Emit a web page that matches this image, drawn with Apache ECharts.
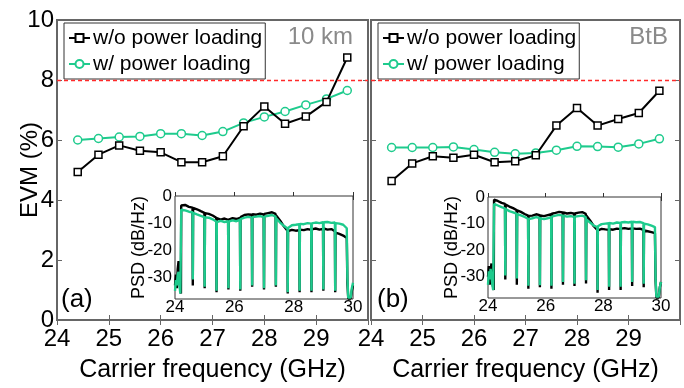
<!DOCTYPE html>
<html>
<head>
<meta charset="utf-8">
<script src="https://cdn.jsdelivr.net/npm/echarts@6/dist/echarts.min.js"></script>
<style>
  html, body { margin: 0; padding: 0; background: #fff; }
  #chart { width: 684px; height: 388px; }
</style>
</head>
<body>
<div id="chart"></div>
<script>
// Carrier frequencies of the 14 sub-bands (GHz)
const carrierGHz = [24.4, 24.8, 25.2, 25.6, 26.0, 26.4, 26.8, 27.2, 27.6, 28.0, 28.4, 28.8, 29.2, 29.6];

// EVM (%) after 10 km of fibre
const evm10kmWithout = [4.93, 5.51, 5.82, 5.64, 5.59, 5.26, 5.26, 5.46, 6.46, 7.12, 6.54, 6.78, 7.27, 8.75];
const evm10kmWith    = [6.00, 6.05, 6.10, 6.12, 6.21, 6.21, 6.15, 6.28, 6.57, 6.77, 6.95, 7.17, 7.37, 7.65];

// EVM (%) back-to-back
const evmBtbWithout = [4.63, 5.22, 5.46, 5.41, 5.51, 5.26, 5.29, 5.49, 6.48, 7.07, 6.48, 6.70, 6.90, 7.64];
const evmBtbWith    = [5.75, 5.75, 5.75, 5.77, 5.68, 5.59, 5.54, 5.57, 5.66, 5.79, 5.78, 5.76, 5.87, 6.04];

// EVM threshold (%)
const evmLimit = 8;

// Tick labels
const evmTicks = [0, 2, 4, 6, 8, 10];
const carrierTicks = [24, 25, 26, 27, 28, 29];
const psdFreqTicks = [24, 26, 28, 30];
const psdTicks = [-30, -20, -10, 0];

// Frequency samples of the measured spectra (GHz)
const psdFreq = [
  24.00, 24.03, 24.06, 24.09, 24.12, 24.15, 24.18, 24.20,
  24.21, 24.34, 24.47, 24.59, 24.60,
  24.61, 24.74, 24.87, 24.99, 25.00,
  25.01, 25.14, 25.27, 25.39, 25.40,
  25.41, 25.54, 25.67, 25.79, 25.80,
  25.81, 25.94, 26.07, 26.19, 26.20,
  26.21, 26.34, 26.47, 26.59, 26.60,
  26.61, 26.74, 26.87, 26.99, 27.00,
  27.01, 27.14, 27.27, 27.39, 27.40,
  27.41, 27.54, 27.67, 27.79, 27.80,
  27.81, 27.94, 28.07, 28.19, 28.20,
  28.21, 28.34, 28.47, 28.59, 28.60,
  28.61, 28.74, 28.87, 28.99, 29.00,
  29.01, 29.14, 29.27, 29.39, 29.40,
  29.41, 29.54, 29.67, 29.79,
  29.81, 29.84, 29.88, 29.92, 29.96, 30.00
];

// PSD (dB/Hz), 10 km
const psd10kmWithout = [
  -33, -29, -34, -27, -24, -31, -35, -36,
  -3.5, -3.3, -4.0, -4.3, -33,
  -4.4, -4.9, -5.6, -6.2, -34,
  -6.3, -6.6, -7.2, -8.0, -35.5,
  -8.2, -8.7, -8.3, -8.8, -34.5,
  -8.7, -8.2, -8.5, -8.1, -35,
  -7.8, -7.0, -6.8, -6.9, -33.5,
  -6.7, -6.9, -6.5, -6.8, -34.5,
  -6.6, -6.3, -6.0, -6.6, -33.5,
  -7.2, -9.0, -11.2, -12.8, -36,
  -13.0, -12.5, -12.8, -12.6, -35.5,
  -12.4, -12.6, -12.2, -12.5, -35.5,
  -12.3, -12.0, -12.4, -12.1, -35,
  -12.0, -12.4, -12.2, -13.0, -35.5,
  -13.5, -14.0, -14.6, -15.5,
  -32, -37.8, -37.8, -37.8, -35, -33
];
const psd10kmWith = [
  -35, -31, -33, -29, -28, -33, -36, -36,
  -5.0, -5.3, -5.8, -6.0, -30.8,
  -6.2, -6.8, -7.3, -7.8, -33.5,
  -7.9, -8.0, -8.6, -9.4, -35,
  -9.6, -9.2, -9.6, -9.3, -34,
  -9.4, -9.0, -9.3, -8.8, -34.5,
  -8.5, -8.0, -7.7, -8.0, -33,
  -7.8, -7.6, -7.4, -7.8, -34,
  -7.6, -7.3, -7.0, -7.6, -33,
  -8.2, -9.8, -11.0, -12.0, -35.5,
  -11.8, -10.8, -10.6, -10.4, -35,
  -10.3, -10.4, -10.0, -10.2, -35,
  -10.1, -9.8, -10.0, -9.7, -34.5,
  -9.7, -9.6, -9.9, -9.8, -35,
  -10.0, -10.2, -10.6, -11.9,
  -30, -37.5, -37.5, -37.5, -34, -32
];

// PSD (dB/Hz), back-to-back
const psdBtbWithout = [
  -30, -26, -33, -28, -25, -32, -34, -35,
  -1.0, -1.5, -2.2, -2.6, -31,
  -2.8, -3.6, -4.2, -4.9, -33,
  -5.0, -5.6, -6.4, -7.0, -34.5,
  -7.1, -7.0, -6.5, -6.8, -34,
  -6.9, -7.2, -6.8, -6.5, -34.5,
  -6.3, -6.0, -5.6, -5.8, -33,
  -5.8, -6.2, -6.0, -6.3, -33.5,
  -6.2, -5.9, -5.7, -6.3, -32.5,
  -7.0, -8.8, -11.0, -12.4, -36,
  -12.6, -12.0, -12.2, -12.3, -35,
  -12.1, -12.3, -11.9, -12.1, -35,
  -11.9, -11.7, -12.0, -11.8, -33.5,
  -11.8, -12.0, -11.9, -12.4, -34,
  -12.6, -12.9, -13.2, -13.6,
  -31, -37.8, -37.8, -37.8, -34, -32
];
const psdBtbWith = [
  -33, -28, -31, -27, -30, -33, -35, -35,
  -2.6, -3.2, -3.8, -4.3, -29.5,
  -4.5, -5.3, -5.8, -6.3, -30.7,
  -6.4, -6.9, -7.5, -8.2, -33.4,
  -8.3, -8.0, -7.6, -7.9, -33.2,
  -8.0, -8.3, -8.0, -7.6, -33.4,
  -7.4, -7.0, -6.7, -7.0, -32,
  -7.0, -7.4, -7.2, -7.5, -32.6,
  -7.4, -7.2, -7.0, -7.6, -31.3,
  -8.4, -9.6, -10.8, -11.3, -35,
  -11.0, -10.2, -10.0, -9.9, -33.8,
  -9.8, -10.0, -9.6, -9.8, -33.8,
  -9.6, -9.4, -9.6, -9.3, -32,
  -9.3, -9.5, -9.4, -9.8, -32.6,
  -10.0, -10.3, -10.8, -11.3,
  -30, -37.5, -37.5, -37.5, -34, -32
];

const FONT = '"Liberation Sans", Arial, Helvetica, sans-serif';
const BLACK = '#000000';
const GREEN = '#1ecb8d';
const FRAME = '#666666';

const pairs = (xs, ys) => xs.map((x, i) => [x, ys[i]]);

// Main EVM panels
function mainX(gridIndex, withName) {
  return [
    {
      type: 'value', gridIndex, position: 'bottom', min: 24, max: 30, interval: 1,
      axisLine: { show: false },
      axisTick: { inside: true, length: 5, lineStyle: { color: FRAME, width: 1 } },
      axisLabel: {
        customValues: carrierTicks, margin: 7, color: '#000',
        fontFamily: FONT, fontSize: 24
      },
      splitLine: { show: false },
      name: withName ? 'Carrier frequency (GHz)' : '',
      nameLocation: 'middle', nameGap: 38, nameMoveOverlap: false,
      nameTextStyle: { fontFamily: FONT, fontSize: 25, color: '#000' }
    },
    {
      type: 'value', gridIndex, position: 'top', min: 24, max: 30, interval: 1,
      axisLine: { show: false },
      axisTick: { inside: true, length: 5, lineStyle: { color: FRAME, width: 1 } },
      axisLabel: { show: false },
      splitLine: { show: false }
    }
  ];
}
function mainY(gridIndex, showLabels) {
  return [
    {
      type: 'value', gridIndex, position: 'left', min: 0, max: 10, interval: 2,
      axisLine: { show: false },
      axisTick: { inside: true, length: 5, lineStyle: { color: FRAME, width: 1 } },
      axisLabel: {
        show: showLabels, customValues: evmTicks, margin: 3, color: '#000',
        fontFamily: FONT, fontSize: 24
      },
      splitLine: { show: false },
      name: showLabels ? 'EVM (%)' : '',
      nameLocation: 'middle', nameGap: 15, nameMoveOverlap: false,
      nameTextStyle: { fontFamily: FONT, fontSize: 24, color: '#000' }
    },
    {
      type: 'value', gridIndex, position: 'right', min: 0, max: 10, interval: 2,
      axisLine: { show: false },
      axisTick: { inside: true, length: 5, lineStyle: { color: FRAME, width: 1 } },
      axisLabel: { show: false },
      splitLine: { show: false }
    }
  ];
}

// Inset PSD panels
function insetX(gridIndex) {
  return [
    {
      type: 'value', gridIndex, position: 'bottom', min: 24, max: 30, interval: 2,
      axisLine: { show: false },
      axisTick: { inside: true, length: 4, lineStyle: { color: '#333', width: 1 } },
      axisLabel: {
        customValues: psdFreqTicks, margin: 0, color: '#000',
        fontFamily: FONT, fontSize: 17
      },
      splitLine: { show: false }
    },
    {
      type: 'value', gridIndex, position: 'top', min: 24, max: 30, interval: 2,
      axisLine: { show: false },
      axisTick: { inside: true, length: 4, lineStyle: { color: '#333', width: 1 } },
      axisLabel: { show: false },
      splitLine: { show: false }
    }
  ];
}
function insetY(gridIndex) {
  return [
    {
      type: 'value', gridIndex, position: 'left', min: -38, max: 0,
      axisLine: { show: false },
      axisTick: { inside: true, length: 4, customValues: psdTicks, lineStyle: { color: '#333', width: 1 } },
      axisLabel: {
        customValues: psdTicks, margin: 3, color: '#000',
        fontFamily: FONT, fontSize: 17
      },
      splitLine: { show: false },
      name: 'PSD (dB/Hz)', nameLocation: 'middle', nameGap: 27, nameMoveOverlap: false,
      nameTextStyle: { fontFamily: FONT, fontSize: 18, color: '#000' }
    },
    {
      type: 'value', gridIndex, position: 'right', min: -38, max: 0,
      axisLine: { show: false },
      axisTick: { inside: true, length: 4, customValues: psdTicks, lineStyle: { color: '#333', width: 1 } },
      axisLabel: { show: false },
      splitLine: { show: false }
    }
  ];
}

function evmSeries(xIdx, yIdx, without, withPL) {
  return [
    {
      name: 'w/o power loading', type: 'line', xAxisIndex: xIdx, yAxisIndex: yIdx,
      data: pairs(carrierGHz, without),
      symbol: 'rect', symbolSize: 7,
      itemStyle: { color: '#fff', borderColor: BLACK, borderWidth: 1.5 },
      lineStyle: { color: BLACK, width: 2 },
      z: 4,
      markLine: {
        silent: true, symbol: 'none', label: { show: false },
        lineStyle: { color: '#ff2a2a', type: [4, 3], width: 1.3 },
        data: [{ yAxis: evmLimit }]
      }
    },
    {
      name: 'w/ power loading', type: 'line', xAxisIndex: xIdx, yAxisIndex: yIdx,
      data: pairs(carrierGHz, withPL),
      symbol: 'circle', symbolSize: 8,
      itemStyle: { color: '#fff', borderColor: GREEN, borderWidth: 1.5 },
      lineStyle: { color: GREEN, width: 2 },
      z: 3
    }
  ];
}

function psdSeries(xIdx, yIdx, without, withPL, tag) {
  return [
    {
      name: 'psd-' + tag + '-without', type: 'line', xAxisIndex: xIdx, yAxisIndex: yIdx,
      data: pairs(psdFreq, without), showSymbol: false, clip: true,
      lineStyle: { color: BLACK, width: 2.4 }, z: 5
    },
    {
      name: 'psd-' + tag + '-with', type: 'line', xAxisIndex: xIdx, yAxisIndex: yIdx,
      data: pairs(psdFreq, withPL), showSymbol: false, clip: true,
      lineStyle: { color: GREEN, width: 2.4 }, z: 6
    }
  ];
}

function legendAt(left) {
  return {
    left, top: 23, orient: 'vertical',
    data: ['w/o power loading', 'w/ power loading'],
    selectedMode: false,
    backgroundColor: '#fff', borderColor: '#333', borderWidth: 1,
    padding: [3, 3, 3, 4], itemGap: 2, itemWidth: 21, itemHeight: 10,
    textStyle: { fontFamily: FONT, fontSize: 21, color: '#000', lineHeight: 24, padding: [0, 0, 0, -2] }
  };
}

const chart = echarts.init(document.getElementById('chart'), null, { renderer: 'canvas' });
chart.setOption({
  animation: false,
  backgroundColor: '#fff',
  grid: [
    { left: 57, top: 20, width: 311, height: 301, show: true, borderColor: FRAME, borderWidth: 2, backgroundColor: 'transparent' },
    { left: 371, top: 20, width: 309, height: 301, show: true, borderColor: FRAME, borderWidth: 2, backgroundColor: 'transparent' },
    { left: 175, top: 196, width: 178, height: 103, show: true, borderColor: '#333', borderWidth: 1, backgroundColor: '#fff', z: 2 },
    { left: 488, top: 197, width: 173, height: 101, show: true, borderColor: '#333', borderWidth: 1, backgroundColor: '#fff', z: 2 }
  ],
  xAxis: [
    ...mainX(0, true), ...mainX(1, true),
    ...insetX(2), ...insetX(3)
  ],
  yAxis: [
    ...mainY(0, true), ...mainY(1, false),
    ...insetY(2), ...insetY(3)
  ],
  legend: [legendAt(64), legendAt(378)],
  series: [
    ...evmSeries(0, 0, evm10kmWithout, evm10kmWith),
    ...evmSeries(2, 2, evmBtbWithout, evmBtbWith),
    ...psdSeries(4, 4, psd10kmWithout, psd10kmWith, 'a'),
    ...psdSeries(6, 6, psdBtbWithout, psdBtbWith, 'b')
  ],
  graphic: [
    { type: 'text', x: 353, y: 37, style: { text: '10 km', fill: '#8a8a8a', font: '24px ' + FONT, textAlign: 'right', textVerticalAlign: 'middle' }, z: 10 },
    { type: 'text', x: 668, y: 37, style: { text: 'BtB', fill: '#8a8a8a', font: '24px ' + FONT, textAlign: 'right', textVerticalAlign: 'middle' }, z: 10 },
    { type: 'text', x: 61, y: 300, style: { text: '(a)', fill: '#000', font: '26px ' + FONT, textAlign: 'left', textVerticalAlign: 'middle' }, z: 10 },
    { type: 'text', x: 377, y: 300, style: { text: '(b)', fill: '#000', font: '26px ' + FONT, textAlign: 'left', textVerticalAlign: 'middle' }, z: 10 }
  ]
});
</script>
</body>
</html>
